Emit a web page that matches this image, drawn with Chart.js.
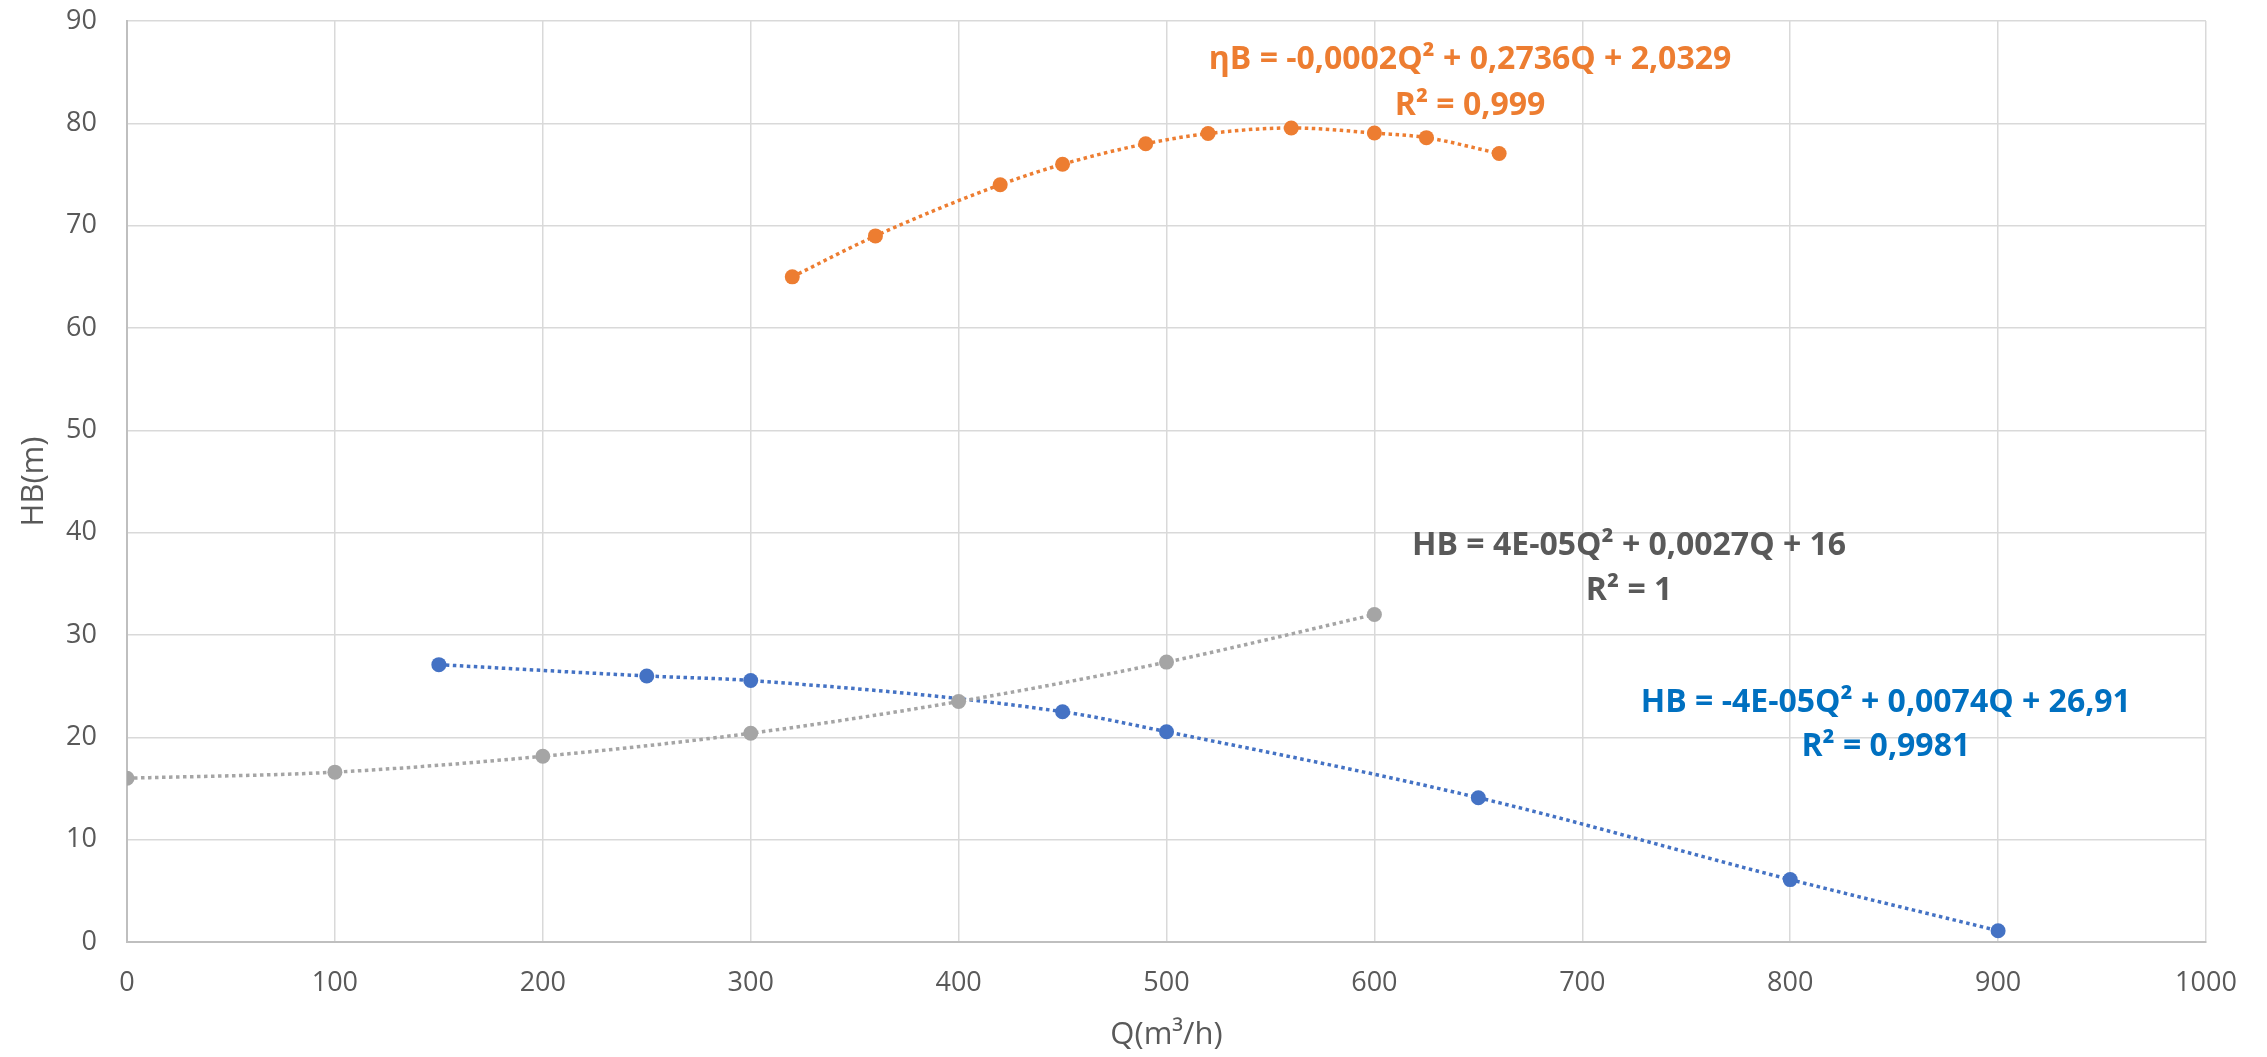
<!DOCTYPE html>
<html>
<head>
<meta charset="utf-8">
<script src="https://cdn.jsdelivr.net/npm/chart.js@4"></script>
<style>
html,body{margin:0;padding:0;background:#fff;}
#wrap{width:2267px;height:1057px;position:relative;}
</style>
</head>
<body>
<div id="wrap"><canvas id="c"></canvas></div>
<script>
// ---- data ----
const qGray = [0, 100, 200, 300, 400, 500, 600];
const hbGray = [16.0, 16.6, 18.15, 20.4, 23.5, 27.35, 32.0];
const qBlue = [150, 250, 300, 450, 500, 650, 800, 900];
const hbBlue = [27.1, 26.0, 25.55, 22.5, 20.55, 14.1, 6.1, 1.1];
const qOrange = [320, 360, 420, 450, 490, 520, 560, 600, 625, 660];
const etaOrange = [65, 69, 74, 76, 78, 79, 79.55, 79.05, 78.6, 77.05];
const xTicks = [0, 100, 200, 300, 400, 500, 600, 700, 800, 900, 1000];
const yTicks = [0, 10, 20, 30, 40, 50, 60, 70, 80, 90];
const eqOrange = ["ηB = -0,0002Q² + 0,2736Q + 2,0329", "R² = 0,999"];
const eqGray = ["HB = 4E-05Q² + 0,0027Q + 16", "R² = 1"];
const eqBlue = ["HB = -4E-05Q² + 0,0074Q + 26,91", "R² = 0,9981"];

const toPts = (xs, ys) => xs.map((x, i) => ({x: x, y: ys[i]}));

// label anchors in data units (centre of each text line)
const labelCfg = [
  {lines: eqOrange, color: '#ED7D31', x: 646, y: [86.2, 81.7]},
  {lines: eqGray, color: '#595959', x: 722.5, y: [38.7, 34.3]},
  {lines: eqBlue, color: '#0070C0', x: 846, y: [23.4, 19.1]}
];

const labelPlugin = {
  id: 'eqLabels',
  afterDatasetsDraw(chart) {
    const ctx = chart.ctx, xs = chart.scales.x, ys = chart.scales.y;
    ctx.save();
    ctx.font = 'bold 32px "Open Sans"';
    ctx.textAlign = 'center';
    ctx.textBaseline = 'middle';
    labelCfg.forEach(l => {
      ctx.fillStyle = l.color;
      l.lines.forEach((t, i) => {
        ctx.fillText(t, xs.getPixelForValue(l.x), ys.getPixelForValue(l.y[i]));
      });
    });
    ctx.restore();
  }
};

function ds(label, data, color) {
  return {
    label: label,
    data: data,
    showLine: true,
    borderColor: color,
    backgroundColor: color,
    borderWidth: 3.5,
    borderDash: [3.5, 3.5],
    cubicInterpolationMode: 'monotone',
    pointRadius: 7.5,
    pointBorderWidth: 0,
    pointBackgroundColor: color,
    pointHoverRadius: 7.5
  };
}

Chart.defaults.font.family = '"Open Sans", sans-serif';
Chart.defaults.color = '#595959';

new Chart(document.getElementById('c'), {
  type: 'scatter',
  data: {
    datasets: [
      ds('HB gray', toPts(qGray, hbGray), '#A5A5A5'),
      ds('HB blue', toPts(qBlue, hbBlue), '#4472C4'),
      ds('ηB', toPts(qOrange, etaOrange), '#ED7D31')
    ]
  },
  plugins: [labelPlugin],
  options: {
    responsive: true,
    maintainAspectRatio: false,
    devicePixelRatio: 1,
    animation: false,
    layout: {padding: {top: 21, right: 61, bottom: 0, left: 0}},
    plugins: {legend: {display: false}, tooltip: {enabled: false}},
    scales: {
      x: {
        type: 'linear',
        min: 0, max: 1000,
        afterBuildTicks: s => { s.ticks = xTicks.map(v => ({value: v})); },
        afterFit: s => { s.height = 115; s.paddingLeft = 0; s.paddingRight = 0; },
        grid: {color: '#D9D9D9', lineWidth: 1.5, drawTicks: false},
        border: {color: '#BFBFBF', width: 2},
        ticks: {font: {size: 27}, color: '#595959', padding: 25, maxRotation: 0, callback: v => String(v)},
        title: {display: true, text: 'Q(m³/h)', font: {size: 31}, color: '#595959', padding: {top: 0, bottom: 3}}
      },
      y: {
        type: 'linear',
        min: 0, max: 90,
        afterBuildTicks: s => { s.ticks = yTicks.map(v => ({value: v})); },
        afterFit: s => { s.width = 127; s.paddingTop = 0; s.paddingBottom = 0; },
        grid: {color: '#D9D9D9', lineWidth: 1.5, drawTicks: false},
        border: {color: '#BFBFBF', width: 2},
        ticks: {font: {size: 27}, color: '#595959', padding: 30, callback: v => String(v)},
        title: {display: true, text: 'HB(m)', font: {size: 31}, color: '#595959', padding: {top: 16, bottom: 0}}
      }
    }
  }
});
</script>
</body>
</html>
